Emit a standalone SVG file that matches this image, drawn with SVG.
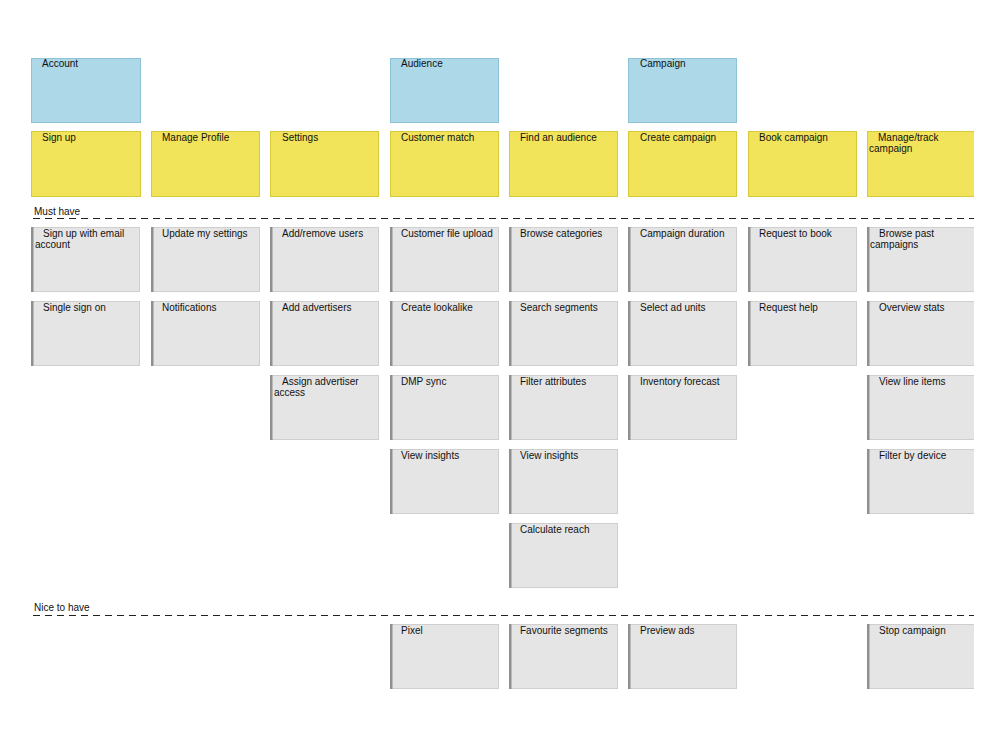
<svg xmlns="http://www.w3.org/2000/svg" width="1000" height="750" viewBox="0 0 1000 750">
<style>
text{font-family:"Liberation Sans",Arial,sans-serif;font-size:10px;fill:#111}
.blue{fill:#acd8e8;stroke:#8cc3d8;stroke-width:1}
.yel{fill:#f2e45a;stroke:#d8c83c;stroke-width:1}
.card{fill:#e5e5e5;stroke:#cfcfcf;stroke-width:1}
.edge{fill:#8f8f8f}
.sep{stroke:#222;stroke-width:1.1;stroke-dasharray:7,5;fill:none}
</style>
<defs>
<g id="c"><rect class="card" x="0.5" y="0.5" width="108" height="64"/><rect class="edge" x="0" y="0" width="2.5" height="65"/></g>
<clipPath id="clipR"><rect x="0" y="0" width="974" height="750"/></clipPath>
</defs>
<rect width="1000" height="750" fill="#fff"/>
<g id="separators">
<line class="sep" x1="33" y1="218.5" x2="974" y2="218.5"/>
<text x="34" y="215">Must have</text>
<line class="sep" x1="33" y1="615.5" x2="974" y2="615.5"/>
<text x="34" y="611">Nice to have</text>
</g>
<g id="account"><rect class="blue" x="31.5" y="58.5" width="109" height="64"/><text x="42" y="67">Account</text></g>
<g id="audience"><rect class="blue" x="390.5" y="58.5" width="108" height="64"/><text x="401" y="67">Audience</text></g>
<g id="campaign"><rect class="blue" x="628.5" y="58.5" width="108" height="64"/><text x="640" y="67">Campaign</text></g>
<g id="signup"><rect class="yel" x="31.5" y="131.5" width="109" height="65"/><text x="42" y="141">Sign up</text></g>
<g id="manageprofile"><rect class="yel" x="151.5" y="131.5" width="108" height="65"/><text x="162" y="141">Manage Profile</text></g>
<g id="settings"><rect class="yel" x="270.5" y="131.5" width="108" height="65"/><text x="282" y="141">Settings</text></g>
<g id="customermatch"><rect class="yel" x="390.5" y="131.5" width="108" height="65"/><text x="401" y="141">Customer match</text></g>
<g id="findaudience"><rect class="yel" x="509.5" y="131.5" width="108" height="65"/><text x="520" y="141">Find an audience</text></g>
<g id="createcampaign"><rect class="yel" x="628.5" y="131.5" width="108" height="65"/><text x="640" y="141">Create campaign</text></g>
<g id="bookcampaign"><rect class="yel" x="748.5" y="131.5" width="108" height="65"/><text x="759" y="141">Book campaign</text></g>
<g id="managetrack" clip-path="url(#clipR)"><rect class="yel" x="867.5" y="131.5" width="108" height="65"/><text x="878" y="141">Manage/track</text><text x="869" y="152">campaign</text></g>

<g id="c1"><use href="#c" x="31" y="227"/><text x="43" y="237">Sign up with email</text><text x="35" y="248">account</text></g>
<g id="c2"><use href="#c" x="31" y="301"/><text x="43" y="311">Single sign on</text></g>
<g id="c3"><use href="#c" x="151" y="227"/><text x="162" y="237">Update my settings</text></g>
<g id="c4"><use href="#c" x="151" y="301"/><text x="162" y="311">Notifications</text></g>
<g id="c5"><use href="#c" x="270" y="227"/><text x="282" y="237">Add/remove users</text></g>
<g id="c6"><use href="#c" x="270" y="301"/><text x="282" y="311">Add advertisers</text></g>
<g id="c7"><use href="#c" x="270" y="375"/><text x="282" y="385">Assign advertiser</text><text x="274" y="396">access</text></g>
<g id="c8"><use href="#c" x="390" y="227"/><text x="401" y="237">Customer file upload</text></g>
<g id="c9"><use href="#c" x="390" y="301"/><text x="401" y="311">Create lookalike</text></g>
<g id="c10"><use href="#c" x="390" y="375"/><text x="401" y="385">DMP sync</text></g>
<g id="c11"><use href="#c" x="390" y="449"/><text x="401" y="459">View insights</text></g>
<g id="c12"><use href="#c" x="509" y="227"/><text x="520" y="237">Browse categories</text></g>
<g id="c13"><use href="#c" x="509" y="301"/><text x="520" y="311">Search segments</text></g>
<g id="c14"><use href="#c" x="509" y="375"/><text x="520" y="385">Filter attributes</text></g>
<g id="c15"><use href="#c" x="509" y="449"/><text x="520" y="459">View insights</text></g>
<g id="c16"><use href="#c" x="509" y="523"/><text x="520" y="533">Calculate reach</text></g>
<g id="c17"><use href="#c" x="628" y="227"/><text x="640" y="237">Campaign duration</text></g>
<g id="c18"><use href="#c" x="628" y="301"/><text x="640" y="311">Select ad units</text></g>
<g id="c19"><use href="#c" x="628" y="375"/><text x="640" y="385">Inventory forecast</text></g>
<g id="c20"><use href="#c" x="748" y="227"/><text x="759" y="237">Request to book</text></g>
<g id="c21"><use href="#c" x="748" y="301"/><text x="759" y="311">Request help</text></g>
<g id="c22" clip-path="url(#clipR)"><use href="#c" x="867" y="227"/><text x="879" y="237">Browse past</text><text x="870" y="248">campaigns</text></g>
<g id="c23" clip-path="url(#clipR)"><use href="#c" x="867" y="301"/><text x="879" y="311">Overview stats</text></g>
<g id="c24" clip-path="url(#clipR)"><use href="#c" x="867" y="375"/><text x="879" y="385">View line items</text></g>
<g id="c25" clip-path="url(#clipR)"><use href="#c" x="867" y="449"/><text x="879" y="459">Filter by device</text></g>
<g id="n1"><use href="#c" x="390" y="624"/><text x="401" y="634">Pixel</text></g>
<g id="n2"><use href="#c" x="509" y="624"/><text x="520" y="634">Favourite segments</text></g>
<g id="n3"><use href="#c" x="628" y="624"/><text x="640" y="634">Preview ads</text></g>
<g id="n4" clip-path="url(#clipR)"><use href="#c" x="867" y="624"/><text x="879" y="634">Stop campaign</text></g>
<g id="connectors"></g>
</svg>
